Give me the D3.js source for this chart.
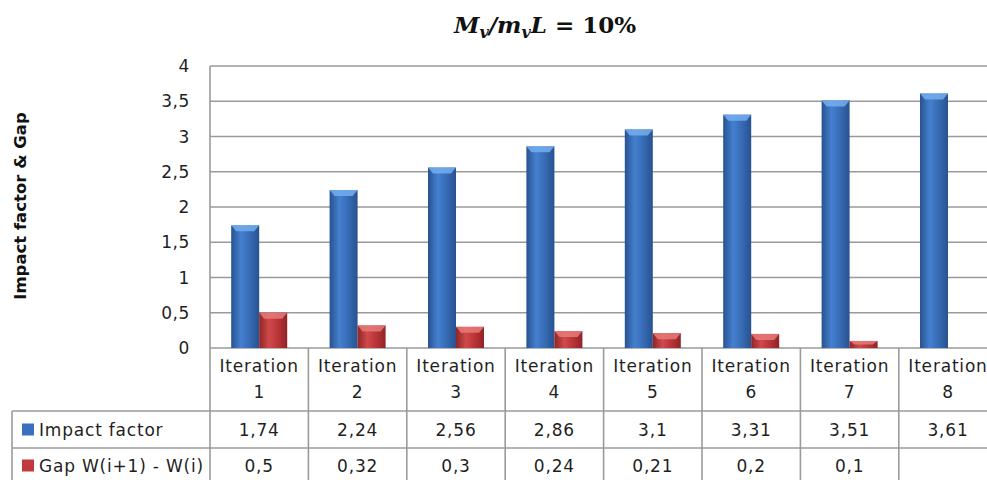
<!DOCTYPE html>
<html>
<head>
<meta charset="utf-8">
<script src="https://cdn.jsdelivr.net/npm/d3@7"></script>
<style>
  html, body { margin: 0; padding: 0; background: #fff; }
  svg { display: block; }
</style>
</head>
<body>
<svg id="chart" width="987" height="480"></svg>
<script>
// Categories, series and tick labels
const categories = ["Iteration 1", "Iteration 2", "Iteration 3", "Iteration 4",
                    "Iteration 5", "Iteration 6", "Iteration 7", "Iteration 8"];
const seriesNames = ["Impact factor", "Gap W(i+1) - W(i)"];
const impactFactor = [1.74, 2.24, 2.56, 2.86, 3.1, 3.31, 3.51, 3.61];
const gapValues = [0.5, 0.32, 0.3, 0.24, 0.21, 0.2, 0.1, null];
const yTicks = [0, 0.5, 1, 1.5, 2, 2.5, 3, 3.5, 4];

const fmt = v => v == null ? "" : String(v).replace(".", ",");

const svg = d3.select("#chart");
const W = 987, H = 480;

const plotLeft = 210, plotTop = 66, plotBottom = 348;
const colW = 98.4;
const plotRight = plotLeft + colW * categories.length;
const rowTops = [plotBottom, 411, 448, 485];
const tableLeft = 12;

const x = d3.scaleBand().domain(categories).range([plotLeft, plotRight]).paddingInner(0).paddingOuter(0);
const barW = 28;
const xs = d3.scaleBand().domain(seriesNames)
  .range([x.bandwidth() / 2 - barW, x.bandwidth() / 2 + barW]).padding(0);
const y = d3.scaleLinear().domain([0, 4]).range([plotBottom, plotTop]);

const fontUI = "'DejaVu Sans', Verdana, sans-serif";
const textColor = "#1f1f1f";
const lineColor = "#9a9a9a";
const cellFont = 17, cellSpacing = 0.8;

// Gradients giving the bars a rounded, shaded look
const defs = svg.append("defs");
function barGradient(id, dark, mid, light) {
  const g = defs.append("linearGradient").attr("id", id)
    .attr("x1", "0%").attr("x2", "100%").attr("y1", "0%").attr("y2", "0%");
  g.append("stop").attr("offset", "0%").attr("stop-color", dark);
  g.append("stop").attr("offset", "35%").attr("stop-color", light);
  g.append("stop").attr("offset", "65%").attr("stop-color", mid);
  g.append("stop").attr("offset", "100%").attr("stop-color", dark);
}
barGradient("gradBlue", "#27528f", "#376cb6", "#4580cf");
barGradient("gradRed", "#8f2426", "#bb3538", "#cf4a4b");

const series = [
  { name: seriesNames[0], values: impactFactor, fill: "url(#gradBlue)", cap: "#74aef0", key: "#3a6fbf" },
  { name: seriesNames[1], values: gapValues, fill: "url(#gradRed)", cap: "#e87a79", key: "#c03a3c" }
];

// Horizontal gridlines
svg.append("g").selectAll("line").data(yTicks).join("line")
  .attr("x1", plotLeft).attr("x2", plotRight)
  .attr("y1", d => y(d)).attr("y2", d => y(d))
  .attr("stroke", lineColor).attr("stroke-width", 1.6);

// Plot left border
svg.append("line").attr("x1", plotLeft).attr("x2", plotLeft)
  .attr("y1", plotTop).attr("y2", plotBottom)
  .attr("stroke", lineColor).attr("stroke-width", 1.6);

// Y tick labels
svg.append("g").selectAll("text").data(yTicks).join("text")
  .attr("x", 190).attr("y", d => y(d)).attr("dy", "0.36em")
  .attr("text-anchor", "end")
  .attr("font-family", fontUI).attr("font-size", 17).attr("letter-spacing", 0.6)
  .attr("fill", textColor)
  .text(fmt);

// Y axis title
svg.append("text")
  .attr("transform", "translate(26,206) rotate(-90)")
  .attr("text-anchor", "middle")
  .attr("font-family", fontUI).attr("font-size", 16.5).attr("font-weight", "bold")
  .attr("fill", "#111")
  .text("Impact factor & Gap");

// Bars
const groups = svg.append("g").selectAll("g").data(categories).join("g")
  .attr("transform", d => `translate(${x(d)},0)`);

series.forEach(s => {
  groups.each(function (cat, i) {
    const v = s.values[i];
    if (v == null) return;
    const g = d3.select(this);
    const bx = xs(s.name), bw = xs.bandwidth();
    const top = y(v);
    g.append("rect")
      .attr("x", bx).attr("y", top)
      .attr("width", bw).attr("height", y(0) - top)
      .attr("fill", s.fill);
    // bevelled top cap
    const capH = Math.min(6, (y(0) - top) / 2);
    g.append("path")
      .attr("d", `M${bx},${top} L${bx + bw},${top} L${bx + bw - 5},${top + capH} L${bx + 5},${top + capH} Z`)
      .attr("fill", s.cap).attr("opacity", 0.85);
  });
});

// Data table: horizontal rules
const hRules = [rowTops[1], rowTops[2]];
svg.append("g").selectAll("line").data(hRules).join("line")
  .attr("x1", tableLeft).attr("x2", W)
  .attr("y1", d => d).attr("y2", d => d)
  .attr("stroke", lineColor).attr("stroke-width", 1.6);

// Data table: vertical rules
const boundaries = categories.map(c => x(c)).concat([plotRight]);
svg.append("g").selectAll("line").data(boundaries).join("line")
  .attr("x1", d => d).attr("x2", d => d)
  .attr("y1", plotBottom).attr("y2", H)
  .attr("stroke", lineColor).attr("stroke-width", 1.6);
svg.append("line").attr("x1", tableLeft).attr("x2", tableLeft)
  .attr("y1", rowTops[1]).attr("y2", H)
  .attr("stroke", lineColor).attr("stroke-width", 1.6);

// Category header cells
const header = svg.append("g").selectAll("text").data(categories).join("text")
  .attr("text-anchor", "middle")
  .attr("font-family", fontUI).attr("font-size", cellFont).attr("letter-spacing", cellSpacing)
  .attr("fill", textColor);
header.append("tspan")
  .attr("x", d => x(d) + x.bandwidth() / 2).attr("y", 372)
  .text(d => d.split(" ")[0]);
header.append("tspan")
  .attr("x", d => x(d) + x.bandwidth() / 2).attr("y", 398)
  .text(d => d.split(" ")[1]);

// Series rows
series.forEach((s, r) => {
  const rowMid = (rowTops[r + 1] + Math.min(rowTops[r + 2], H + 3)) / 2;
  svg.append("rect")
    .attr("x", 22).attr("y", rowMid - 6).attr("width", 12).attr("height", 12)
    .attr("fill", s.key);
  svg.append("text")
    .attr("x", 39).attr("y", rowMid).attr("dy", "0.36em")
    .attr("font-family", fontUI).attr("font-size", cellFont).attr("letter-spacing", cellSpacing)
    .attr("fill", textColor)
    .text(s.name);
  svg.append("g").selectAll("text").data(categories).join("text")
    .attr("x", d => x(d) + x.bandwidth() / 2).attr("y", rowMid).attr("dy", "0.36em")
    .attr("text-anchor", "middle")
    .attr("font-family", fontUI).attr("font-size", cellFont).attr("letter-spacing", cellSpacing)
    .attr("fill", textColor)
    .text((d, i) => fmt(s.values[i]));
});

// Title: M_v / m_v L = 10%
const title = svg.append("text")
  .attr("x", 545).attr("y", 33)
  .attr("text-anchor", "middle")
  .attr("font-family", "'DejaVu Serif', 'Liberation Serif', serif")
  .attr("font-size", 23).attr("font-weight", "bold").attr("fill", "#111");
title.append("tspan").attr("font-style", "italic").text("M");
title.append("tspan").attr("font-style", "italic").attr("font-size", 16).attr("dy", 5).text("v");
title.append("tspan").attr("font-style", "italic").attr("dy", -5).text("/m");
title.append("tspan").attr("font-style", "italic").attr("font-size", 16).attr("dy", 5).text("v");
title.append("tspan").attr("font-style", "italic").attr("dy", -5).text("L");
title.append("tspan").text(" = 10%");
</script>
</body>
</html>
